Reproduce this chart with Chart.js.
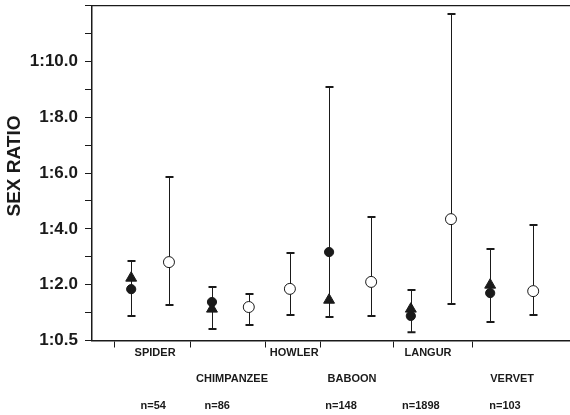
<!DOCTYPE html>
<html><head><meta charset="utf-8">
<script src="https://cdn.jsdelivr.net/npm/chart.js@4/dist/chart.umd.min.js"></script>
<style>html,body{margin:0;padding:0;background:#fff}#w{width:570px;height:415px;position:relative}</style>
</head><body><div id="w"><canvas id="c"></canvas></div>
<script>
// ---- data (x in axis units 0..100, y in sex-ratio axis units, 0 = "1:0.5") ----
const yTickValues = [0,1,2,3,4,5,6,7,8,9,10,11,12];
const yTickLabels = {0:'1:0.5',2:'1:2.0',4:'1:4.0',6:'1:6.0',8:'1:8.0',10:'1:10.0'};
const xBoundaryTicks = [4.8, 20.7, 36.4, 47.7, 63.0, 79.7];

const speciesNames = ['SPIDER','CHIMPANZEE','HOWLER','BABOON','LANGUR','VERVET'];
const speciesLabelX = [13.2, 29.3, 42.3, 54.4, 70.3, 87.9];
const speciesLabelRow = [0, 1, 0, 1, 0, 1];
const sampleLabels = ['n=54','n=86','n=148','n=1898','n=103'];
const sampleLabelX = [12.8, 26.2, 52.1, 68.8, 86.4];

// filled markers: spider, chimpanzee, baboon, langur, vervet
const filledX = [8.2, 25.1, 49.6, 66.7, 83.3];
const triangleY = [2.24, 1.13, 1.45, 1.13, 1.99];
const filledCircleY = [1.84, 1.38, 3.17, 0.88, 1.70];
const filledLo = [0.88, 0.41, 0.84, 0.30, 0.66];
const filledHi = [2.85, 1.92, 9.09, 1.81, 3.28];
// open circles: spider, chimpanzee, howler, baboon, langur, vervet
const openX = [16.1, 32.8, 41.4, 58.4, 75.1, 92.3];
const openY = [2.81, 1.20, 1.85, 2.10, 4.35, 1.77];
const openLo = [1.27, 0.56, 0.91, 0.88, 1.31, 0.91];
const openHi = [5.86, 1.67, 3.14, 4.43, 11.70, 4.14];

const INK = '#1a1a1a';
const pts = (xs, ys) => xs.map((x, i) => ({x, y: ys[i]}));

const errorBars = {
  id: 'errorBars',
  beforeDatasetsDraw(chart) {
    const {ctx, scales: {x, y}} = chart;
    ctx.save();
    ctx.strokeStyle = INK;
    const draw = (xs, lo, hi) => xs.forEach((xv, i) => {
      const px = Math.round(x.getPixelForValue(xv)) + 0.5;
      const pl = y.getPixelForValue(lo[i]), ph = y.getPixelForValue(hi[i]);
      ctx.lineWidth = 1;
      ctx.beginPath(); ctx.moveTo(px, pl); ctx.lineTo(px, ph); ctx.stroke();
      ctx.lineWidth = 2;
      ctx.beginPath();
      ctx.moveTo(px - 4, pl); ctx.lineTo(px + 4, pl);
      ctx.moveTo(px - 4, ph); ctx.lineTo(px + 4, ph);
      ctx.stroke();
    });
    draw(filledX, filledLo, filledHi);
    draw(openX, openLo, openHi);
    ctx.restore();
  },
  afterDraw(chart) {
    const {ctx, chartArea: a, scales: {x}} = chart;
    ctx.save();
    // top frame line
    ctx.strokeStyle = INK; ctx.lineWidth = 1.2;
    ctx.beginPath(); ctx.moveTo(a.left, a.top); ctx.lineTo(a.right, a.top); ctx.stroke();
    // category labels
    ctx.fillStyle = INK;
    ctx.textAlign = 'center'; ctx.textBaseline = 'middle';
    ctx.font = 'bold 11px "Liberation Sans", Arial, sans-serif';
    const rowY = [353, 379];
    speciesNames.forEach((s, i) => ctx.fillText(s, x.getPixelForValue(speciesLabelX[i]), rowY[speciesLabelRow[i]]));
    sampleLabels.forEach((s, i) => ctx.fillText(s, x.getPixelForValue(sampleLabelX[i]), 406));
    // y axis title
    ctx.font = 'bold 19px "Liberation Sans", Arial, sans-serif';
    ctx.translate(15, 166); ctx.rotate(-Math.PI / 2);
    ctx.fillText('SEX RATIO', 0, 0);
    ctx.restore();
  }
};

new Chart(document.getElementById('c'), {
  type: 'scatter',
  data: {
    datasets: [
      {data: pts(filledX, triangleY), pointStyle: 'triangle', radius: 6.3, backgroundColor: INK, borderColor: INK, borderWidth: 1},
      {data: pts(filledX, filledCircleY), pointStyle: 'circle', radius: 4.6, backgroundColor: INK, borderColor: INK, borderWidth: 1},
      {data: pts(openX, openY), pointStyle: 'circle', radius: 5.5, backgroundColor: '#fff', borderColor: INK, borderWidth: 1}
    ]
  },
  options: {
    responsive: true, maintainAspectRatio: false, animation: false,
    layout: {autoPadding: false, padding: {top: 5.7, right: 0, left: 0, bottom: 0}},
    plugins: {legend: {display: false}, tooltip: {enabled: false}},
    events: [],
    scales: {
      x: {
        type: 'linear', min: 0, max: 100,
        afterBuildTicks: s => { s.ticks = xBoundaryTicks.map(v => ({value: v})); },
        afterFit: s => { s.height = 74.5; s.paddingLeft = 0; s.paddingRight = 0; },
        grid: {drawOnChartArea: false, drawTicks: true, tickLength: 7, color: INK, lineWidth: 1},
        border: {display: true, color: INK, width: 1.5},
        ticks: {callback: () => '', padding: 0}
      },
      y: {
        type: 'linear', min: 0, max: 12,
        afterBuildTicks: s => { s.ticks = yTickValues.map(v => ({value: v})); },
        afterFit: s => { s.width = 92; s.paddingTop = 0; s.paddingBottom = 0; },
        grid: {drawOnChartArea: false, drawTicks: true, tickLength: 7, color: INK, lineWidth: 1},
        border: {display: true, color: INK, width: 1.5},
        ticks: {
          callback: v => yTickLabels[v] !== undefined ? yTickLabels[v] : '',
          color: INK, padding: 7,
          font: {family: '"Liberation Sans", Arial, sans-serif', size: 17, weight: 'bold'}
        }
      }
    }
  },
  plugins: [errorBars]
});
</script>
</body></html>
